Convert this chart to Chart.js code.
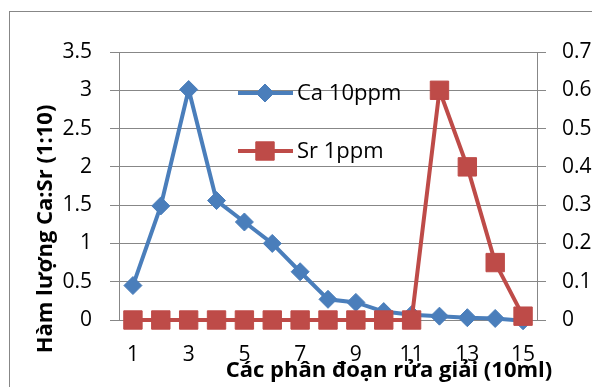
<!DOCTYPE html>
<html>
<head>
<meta charset="utf-8">
<script src="https://cdn.jsdelivr.net/npm/chart.js@4.4.0/dist/chart.umd.min.js"></script>
<style>
  html, body { margin: 0; padding: 0; background: #ffffff; }
  #wrap { width: 592px; height: 387px; position: relative; overflow: hidden; }
</style>
</head>
<body>
<div id="wrap"><canvas id="c" width="592" height="387"></canvas></div>
<script>
// Elution fractions (10 ml each)
const categories = ['1','2','3','4','5','6','7','8','9','10','11','12','13','14','15'];
// Ca 10ppm, read against the left axis
const caValues = [0.45, 1.49, 3.01, 1.56, 1.28, 1.00, 0.63, 0.27, 0.23, 0.11, 0.07, 0.05, 0.03, 0.02, -0.01];
// Sr 1ppm, read against the right axis
const srValues = [0, 0, 0, 0, 0, 0, 0, 0, 0, 0, 0, 0.60, 0.40, 0.15, 0.01];
const seriesNames = ['Ca 10ppm', 'Sr 1ppm'];
const leftRange = [0, 3.5, 0.5];
const rightRange = [0, 0.7, 0.1];
const yTitle = 'Hàm lượng Ca:Sr (1:10)';
const xTitle = 'Các phân đoạn rửa giải (10ml)';

const BLUE = '#4A7EBB';
const RED = '#BE4B48';
const GRID = '#878787';
const FONT = '"Open Sans", "DejaVu Sans", sans-serif';

// short number labels: 3 rather than 3.0
const fmt = v => String(Math.round(v * 10) / 10);

function drawMarker(ctx, style, x, y, r, color) {
  ctx.save();
  ctx.fillStyle = color;
  ctx.strokeStyle = color;
  ctx.lineWidth = 1;
  ctx.beginPath();
  if (style === 'rectRot') {
    ctx.moveTo(x - r, y);
    ctx.lineTo(x, y - r);
    ctx.lineTo(x + r, y);
    ctx.lineTo(x, y + r);
  } else {
    const s = Math.SQRT1_2 * r;
    ctx.rect(x - s, y - s, 2 * s, 2 * s);
  }
  ctx.closePath();
  ctx.fill();
  ctx.stroke();
  ctx.restore();
}

// white page + outer chart frame
const framePlugin = {
  id: 'frame',
  beforeDraw(chart) {
    const ctx = chart.ctx;
    ctx.save();
    ctx.fillStyle = '#ffffff';
    ctx.fillRect(0, 0, chart.width, chart.height);
    ctx.strokeStyle = GRID;
    ctx.lineWidth = 1;
    ctx.strokeRect(9.5, 11.5, 800, 600);
    ctx.restore();
  }
};

// legend placed inside the plot, plus both axis titles
const overlayPlugin = {
  id: 'overlay',
  afterDatasetsDraw(chart) {
    const ctx = chart.ctx;
    const items = [
      { name: seriesNames[0], color: BLUE, style: 'rectRot', r: 9, y: 93 },
      { name: seriesNames[1], color: RED, style: 'rect', r: 13, y: 151 }
    ];
    ctx.save();
    items.forEach(it => {
      ctx.strokeStyle = it.color;
      ctx.lineWidth = 4;
      ctx.beginPath();
      ctx.moveTo(238, it.y);
      ctx.lineTo(293, it.y);
      ctx.stroke();
      drawMarker(ctx, it.style, 265, it.y, it.r, it.color);
      ctx.fillStyle = '#000000';
      ctx.font = '22px ' + FONT;
      ctx.textAlign = 'left';
      ctx.textBaseline = 'middle';
      ctx.fillText(it.name, 297, it.y + 1);
    });

    ctx.fillStyle = '#000000';
    ctx.textAlign = 'center';
    ctx.textBaseline = 'alphabetic';
    ctx.font = 'bold 22px ' + FONT;
    ctx.fillText(xTitle, 389, 377);

    ctx.translate(52, 229);
    ctx.rotate(-Math.PI / 2);
    ctx.fillText(yTitle, 0, 0);
    ctx.restore();
  }
};

new Chart(document.getElementById('c'), {
  type: 'line',
  data: {
    labels: categories,
    datasets: [
      {
        label: seriesNames[0],
        data: caValues,
        yAxisID: 'y',
        borderColor: BLUE,
        backgroundColor: BLUE,
        borderWidth: 4,
        pointStyle: 'rectRot',
        pointRadius: 9,
        pointBorderWidth: 1,
        pointBackgroundColor: BLUE,
        pointBorderColor: BLUE,
        tension: 0,
        clip: false,
        order: 2
      },
      {
        label: seriesNames[1],
        data: srValues,
        yAxisID: 'y1',
        borderColor: RED,
        backgroundColor: RED,
        borderWidth: 4,
        pointStyle: 'rect',
        pointRadius: 13,
        pointBorderWidth: 1,
        pointBackgroundColor: RED,
        pointBorderColor: RED,
        tension: 0,
        clip: false,
        order: 1
      }
    ]
  },
  options: {
    responsive: false,
    devicePixelRatio: 1,
    animation: false,
    events: [],
    layout: { padding: { top: 52, left: 0, right: 0, bottom: 0 } },
    plugins: { legend: { display: false }, tooltip: { enabled: false } },
    scales: {
      x: {
        type: 'category',
        offset: true,
        grid: { display: false, drawTicks: false },
        border: { display: false },
        ticks: {
          autoSkip: false,
          maxRotation: 0,
          padding: 22,
          color: '#000000',
          font: { family: FONT, size: 21 },
          callback: function (value, index) {
            return index % 2 === 0 ? this.getLabelForValue(value) : '';
          }
        },
        afterFit: s => { s.height = 67; }
      },
      y: {
        position: 'left',
        min: leftRange[0],
        max: leftRange[1],
        ticks: {
          stepSize: leftRange[2],
          padding: 18,
          color: '#000000',
          font: { family: FONT, size: 21 },
          callback: v => fmt(v)
        },
        grid: { color: GRID, lineWidth: 1, tickLength: 9 },
        border: { color: GRID, width: 1 },
        afterFit: s => { s.width = 119; }
      },
      y1: {
        position: 'right',
        min: rightRange[0],
        max: rightRange[1],
        ticks: {
          stepSize: rightRange[2],
          padding: 16,
          color: '#000000',
          font: { family: FONT, size: 21 },
          callback: v => fmt(v)
        },
        grid: { drawOnChartArea: false, color: GRID, lineWidth: 1, tickLength: 9 },
        border: { color: GRID, width: 1 },
        afterFit: s => { s.width = 55; }
      }
    }
  },
  plugins: [framePlugin, overlayPlugin]
});
</script>
</body>
</html>
